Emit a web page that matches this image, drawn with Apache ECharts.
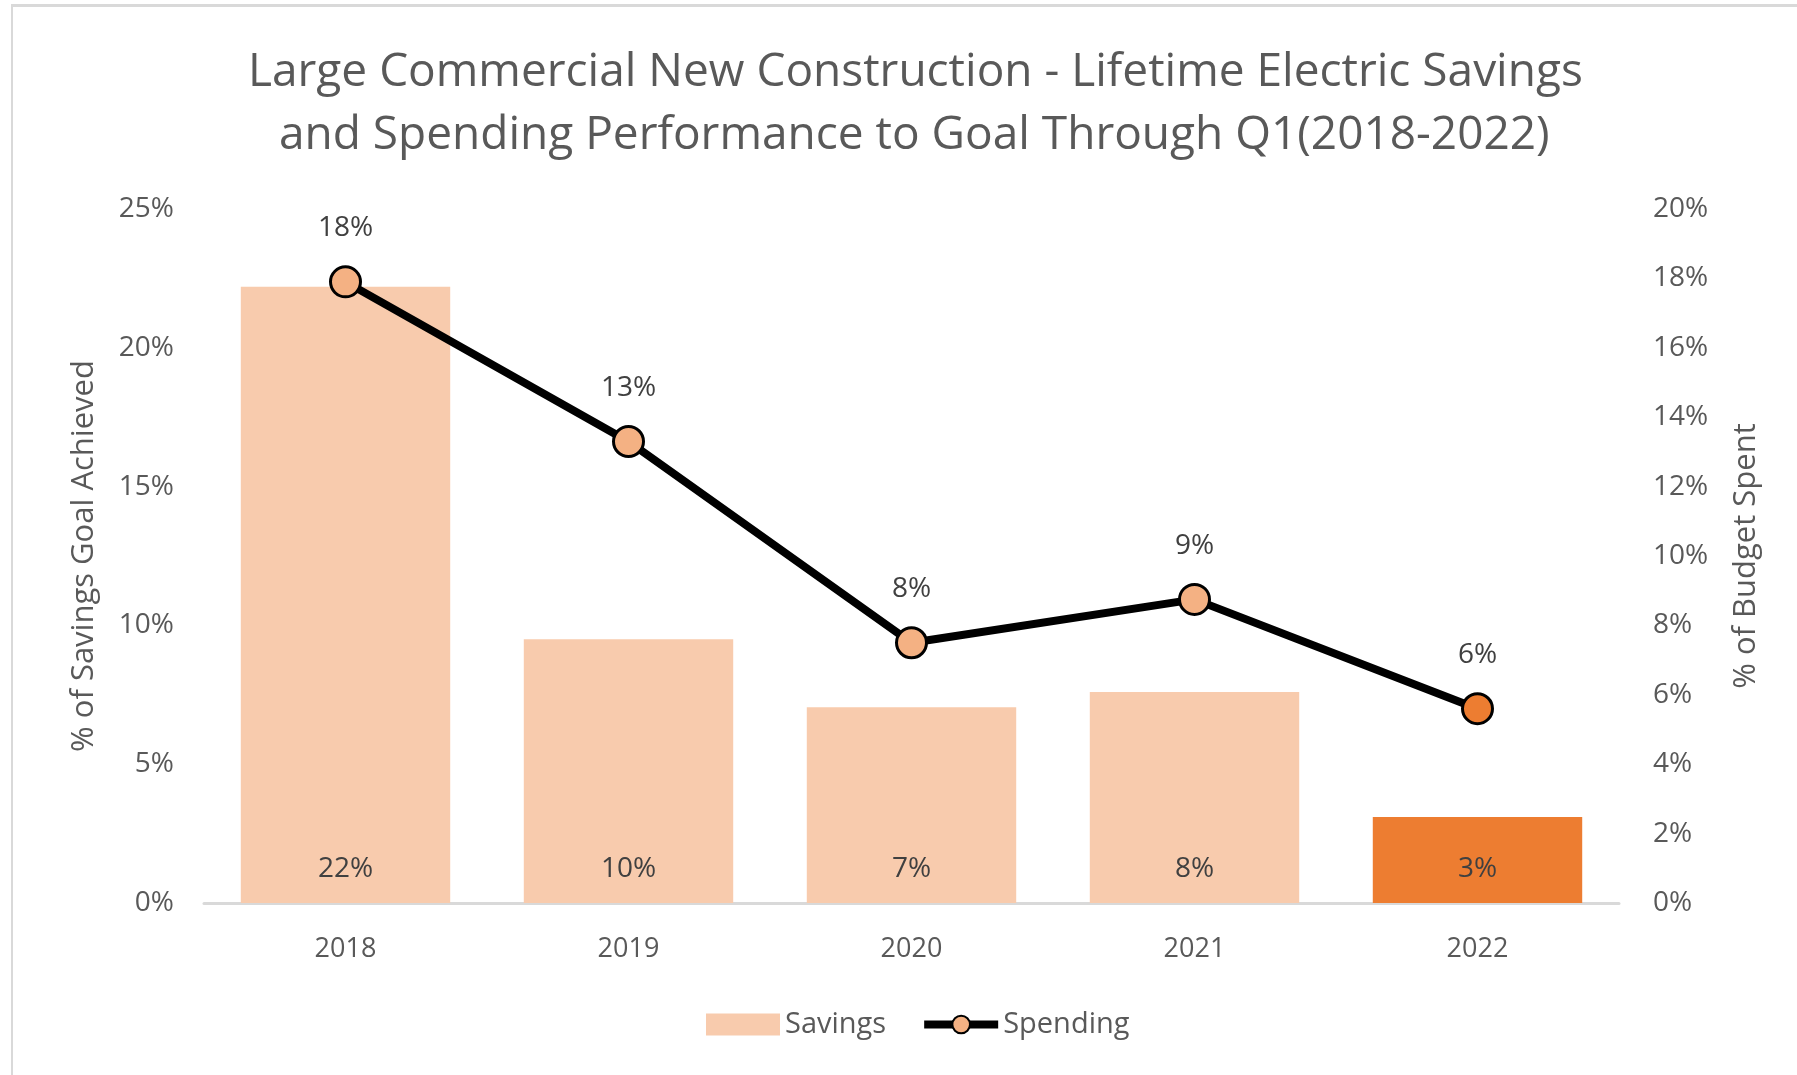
<!DOCTYPE html>
<html>
<head>
<meta charset="utf-8">
<script src="https://cdn.jsdelivr.net/npm/echarts@6/dist/echarts.min.js"></script>
<style>
  html, body { margin: 0; padding: 0; background: #fff; }
  #chart { width: 1797px; height: 1075px; position: relative; }
  .frame {
    position: absolute; left: 11px; top: 4px; right: -10px; bottom: -10px;
    border-top: 3px solid #d9d9d9; border-left: 2px solid #d9d9d9;
    pointer-events: none;
  }
</style>
</head>
<body>
<div id="chart"></div>
<div class="frame"></div>
<script>
// chart data
var years = ["2018", "2019", "2020", "2021", "2022"];
var savings = [22.2, 9.5, 7.05, 7.6, 3.1];     // % of savings goal achieved
var spending = [17.9, 13.3, 7.5, 8.75, 5.6];   // % of budget spent
var leftTicks = [0, 5, 10, 15, 20, 25];
var rightTicks = [0, 2, 4, 6, 8, 10, 12, 14, 16, 18, 20];
var titleLines = [
  "Large Commercial New Construction - Lifetime Electric Savings",
  "and Spending Performance to Goal Through Q1(2018-2022)"
];

var font = "Open Sans";
var grey = "#595959";
var titleStyle = { fontFamily: font, fontSize: 46, fontWeight: "normal", color: grey };

var barData = savings.map(function (v, i) {
  var last = i === savings.length - 1;
  return { value: v, itemStyle: { color: last ? "#ed7d31" : "#f8cbad" } };
});
var lineData = spending.map(function (v, i) {
  var last = i === spending.length - 1;
  return { value: v, itemStyle: { color: last ? "#ed7d31" : "#f4b183" } };
});

var myChart = echarts.init(document.getElementById("chart"));
myChart.setOption({
  animation: false,
  textStyle: { fontFamily: font },
  title: [
    { text: titleLines[0], left: 243, top: 45, textStyle: titleStyle },
    { text: titleLines[1], left: 274, top: 108, textStyle: titleStyle }
  ],
  legend: {
    bottom: 31,
    left: 701,
    itemGap: 34,
    itemWidth: 74,
    itemHeight: 22,
    textStyle: { fontFamily: font, fontSize: 29, color: grey },
    data: [
      { name: "Savings", icon: "rect", itemStyle: { color: "#f8cbad" } },
      { name: "Spending", lineStyle: { width: 8, color: "#000" } }
    ]
  },
  grid: { left: 204, right: 178, top: 209, bottom: 172 },
  xAxis: {
    type: "category",
    data: years,
    axisLine: { lineStyle: { color: "#d9d9d9", width: 3 } },
    axisTick: { show: false },
    axisLabel: { fontSize: 27, color: grey, margin: 33, fontFamily: font }
  },
  yAxis: [
    {
      type: "value",
      min: leftTicks[0],
      max: leftTicks[leftTicks.length - 1],
      interval: 5,
      name: "% of Savings Goal Achieved",
      nameLocation: "middle",
      nameGap: 104,
      nameTextStyle: { fontSize: 31, color: grey, fontFamily: font },
      splitLine: { show: false },
      axisLine: { show: false },
      axisTick: { show: false },
      axisLabel: { fontSize: 28, color: grey, margin: 30, formatter: "{value}%" }
    },
    {
      type: "value",
      min: rightTicks[0],
      max: rightTicks[rightTicks.length - 1],
      interval: 2,
      name: "% of Budget Spent",
      nameLocation: "middle",
      nameGap: 112,
      nameTextStyle: { fontSize: 31, color: grey, fontFamily: font },
      splitLine: { show: false },
      axisLine: { show: false },
      axisTick: { show: false },
      axisLabel: { fontSize: 28, color: grey, margin: 34, align: "left", formatter: "{value}%" }
    }
  ],
  series: [
    {
      name: "Savings",
      type: "bar",
      yAxisIndex: 0,
      data: barData,
      barCategoryGap: "26%",
      label: {
        show: true,
        position: "insideBottom",
        distance: 20,
        fontSize: 28,
        color: "#404040",
        formatter: function (p) { return Math.round(p.value) + "%"; }
      }
    },
    {
      name: "Spending",
      type: "line",
      yAxisIndex: 1,
      data: lineData,
      symbol: "circle",
      symbolSize: 30,
      lineStyle: { color: "#000", width: 8 },
      itemStyle: { color: "#f4b183", borderColor: "#000", borderWidth: 3 },
      label: {
        show: true,
        position: "top",
        distance: 23,
        fontSize: 28,
        color: "#404040",
        formatter: function (p) { return Math.round(p.value) + "%"; }
      }
    }
  ]
});
</script>
</body>
</html>
